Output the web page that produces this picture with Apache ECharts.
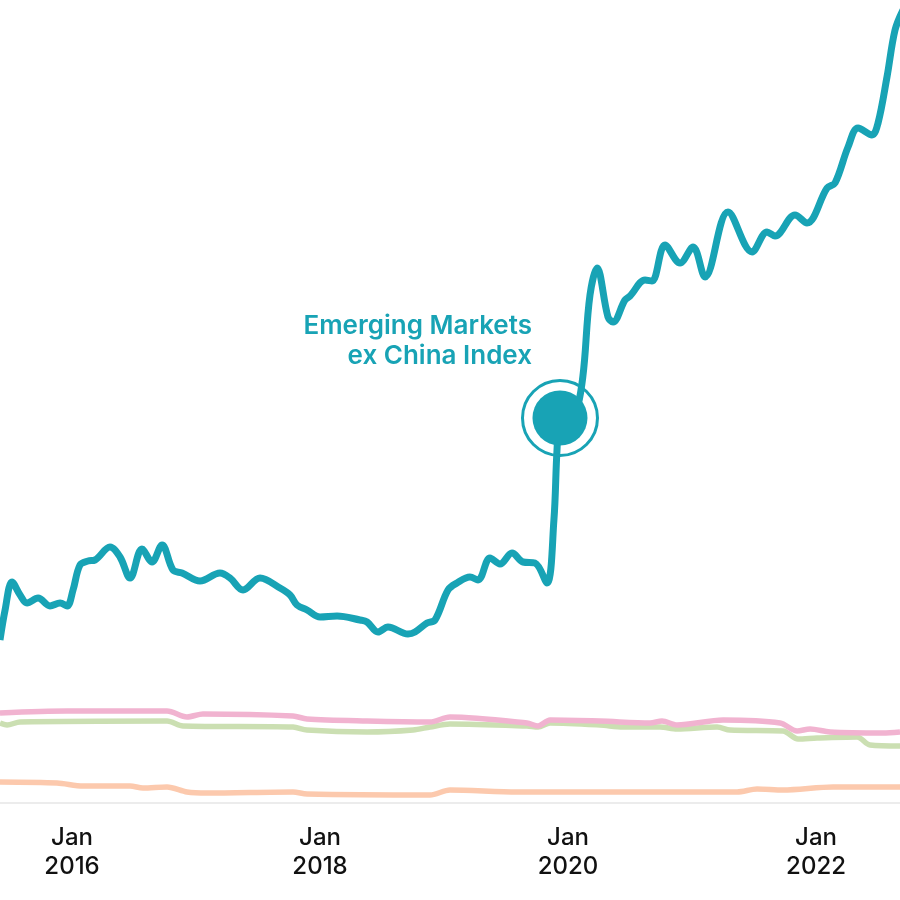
<!DOCTYPE html>
<html>
<head>
<meta charset="utf-8">
<script src="https://cdn.jsdelivr.net/npm/echarts@6/dist/echarts.min.js"></script>
<style>
html,body{margin:0;padding:0;background:#fff;}
#chart{width:900px;height:900px;}
</style>
</head>
<body>
<div id="chart"></div>
<script>
// x values are decimal years; y values are index levels (arbitrary units)
const emXChinaYears = [2015.419,2015.460,2015.516,2015.581,2015.637,2015.726,2015.822,2015.903,2015.960,2016.008,2016.064,2016.129,2016.185,2016.306,2016.387,2016.468,2016.564,2016.645,2016.726,2016.814,2016.887,2017.032,2017.193,2017.274,2017.379,2017.516,2017.677,2017.758,2017.814,2017.895,2018.000,2018.137,2018.322,2018.379,2018.467,2018.548,2018.709,2018.766,2018.863,2018.927,2019.032,2019.104,2019.209,2019.274,2019.371,2019.451,2019.548,2019.637,2019.733,2019.830,2019.886,2019.911,2019.935,2020.081,2020.177,2020.234,2020.322,2020.363,2020.459,2020.500,2020.621,2020.677,2020.782,2020.903,2021.008,2021.105,2021.290,2021.484,2021.605,2021.669,2021.830,2021.927,2022.089,2022.153,2022.258,2022.339,2022.451,2022.500,2022.572,2022.637,2022.701];
const emXChinaValues = [163,193,221,208,200,205,197,200,197,213,238,242,243,256,246,225,254,241,258,233,230,222,230,225,213,225,215,208,198,193,186,187,183,181,171,176,169,171,180,183,213,220,226,223,245,239,250,241,240,220,283,353,385,398,508,535,486,481,503,507,523,522,558,540,556,526,591,551,571,567,588,580,615,620,656,675,668,680,726,773,793];

const pinkYears = [2015.419,2015.960,2016.766,2016.927,2017.056,2017.782,2017.895,2018.379,2018.887,2019.048,2019.669,2019.758,2019.855,2020.258,2020.661,2020.758,2020.879,2021.250,2021.710,2021.847,2021.952,2022.113,2022.540,2022.677];
const pinkValues = [90,92,92,86,89,87,84,82,81,86,80,77,83,82,80,82,78,83,80,72,74,71,70,71];

const greenYears = [2015.419,2015.476,2015.581,2016.766,2016.895,2017.782,2017.895,2018.379,2018.750,2018.887,2019.048,2019.669,2019.758,2019.855,2020.258,2020.444,2020.742,2020.879,2021.202,2021.306,2021.734,2021.855,2022.008,2022.331,2022.435,2022.677];
const greenValues = [80,78,81,82,77,76,73,71,73,76,79,77,76,80,78,76,76,74,76,73,72,64,65,66,58,57];

const orangeYears = [2015.419,2015.879,2016.089,2016.468,2016.572,2016.766,2016.927,2017.089,2017.782,2017.895,2018.887,2019.048,2019.589,2020.661,2021.363,2021.524,2021.734,2022.137,2022.492,2022.677];
const orangeValues = [21,20,17,17,15,16,11,10,11,9,8,13,11,11,11,14,13,16,16,16];

const tickYears = [2016, 2018, 2020, 2022];
const highlightIndex = 52; // point marked with the annotation circle
const seriesName = 'Emerging Markets\nex China Index';

const TEAL = '#18a3b5';
const zip = (xs, ys) => xs.map((x, i) => [x, ys[i]]);

const chart = echarts.init(document.getElementById('chart'), null, {renderer: 'canvas'});
const highlight = [emXChinaYears[highlightIndex], emXChinaValues[highlightIndex]];

chart.setOption({
  backgroundColor: '#ffffff',
  animation: false,
  grid: {left: 0, right: 0, top: 0, bottom: 97, containLabel: false, outerBoundsMode: 'none'},
  xAxis: {
    type: 'value',
    min: 2015.419,
    max: 2022.677,
    splitLine: {show: false},
    axisTick: {show: false},
    axisLine: {show: true, lineStyle: {color: '#e6e6e6', width: 1.5}},
    axisLabel: {
      customValues: tickYears,
      formatter: v => 'Jan\n' + v,
      color: '#111111',
      fontFamily: 'Inter',
      fontWeight: 500,
      fontSize: 24,
      lineHeight: 29,
      margin: 20,
      showMinLabel: true,
      showMaxLabel: true
    }
  },
  yAxis: {type: 'value', min: 0, max: 803, show: false},
  series: [
    {type: 'line', data: zip(orangeYears, orangeValues), showSymbol: false, smooth: 0.3,
     lineStyle: {color: '#fcc9ad', width: 5.5}, z: 1},
    {type: 'line', data: zip(greenYears, greenValues), showSymbol: false, smooth: 0.3,
     lineStyle: {color: '#cbdfb2', width: 5.5}, z: 1},
    {type: 'line', data: zip(pinkYears, pinkValues), showSymbol: false, smooth: 0.3,
     lineStyle: {color: '#f1b3d0', width: 5.5}, z: 1},
    {type: 'line', name: seriesName, data: zip(emXChinaYears, emXChinaValues), showSymbol: false, smooth: 0.35,
     lineStyle: {color: TEAL, width: 7}, z: 2},
    {type: 'scatter', data: [highlight], symbol: 'circle', symbolSize: 75,
     itemStyle: {color: 'rgba(0,0,0,0)', borderColor: TEAL, borderWidth: 3, opacity: 1}, z: 3, silent: true},
    {type: 'scatter', data: [highlight], symbol: 'circle', symbolSize: 55,
     itemStyle: {color: TEAL, opacity: 1}, z: 4, silent: true,
     label: {
       show: true,
       formatter: seriesName,
       position: [-0.5, -49.5],
       align: 'right',
       verticalAlign: 'middle',
       color: TEAL,
       opacity: 1,
       fontFamily: 'Inter',
       fontWeight: 600,
       fontSize: 26,
       lineHeight: 30
     }}
  ]
});
</script>
</body>
</html>
